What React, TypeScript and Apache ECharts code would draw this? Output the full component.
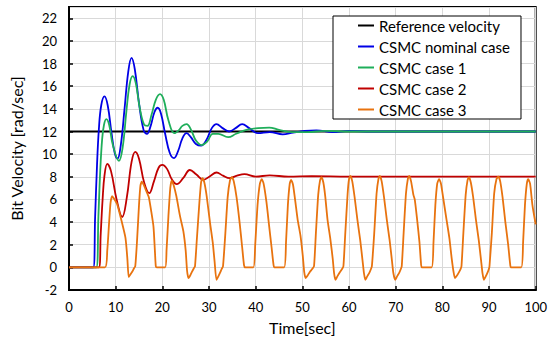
import React, { useEffect, useRef } from "react";
import * as echarts from "echarts";

const seriesNames = ["Reference velocity", "CSMC nominal case", "CSMC case 1", "CSMC case 2", "CSMC case 3"];
const seriesColors = ["#000000", "#0000e6", "#1fae5a", "#c00000", "#e8730f"];
const xTicks = [0, 10, 20, 30, 40, 50, 60, 70, 80, 90, 100];
const yTicks = [-2, 0, 2, 4, 6, 8, 10, 12, 14, 16, 18, 20, 22];

const referenceVelocity: number[][] = [[0, 12], [100, 12]];

const nominalCase: number[][] = [
  [0, 0], [5.2, 0], [5.6, 4.5], [6.0, 9], [6.4, 12.2], [6.9, 14.3], [7.6, 15.1], [8.3, 14.3], [9.1, 11.9],
  [9.8, 10.1], [10.4, 9.6], [11.1, 10.8], [11.9, 14.0], [12.7, 17.3], [13.4, 18.5], [14.1, 17.5], [15.0, 14.5],
  [16.0, 12.1], [16.7, 11.8], [17.5, 12.5], [18.3, 13.7], [19.0, 14.1], [19.7, 13.6], [20.6, 11.8], [21.6, 10.1],
  [22.5, 9.65], [23.4, 10.3], [24.3, 11.4], [25.2, 11.85], [26.1, 11.5], [27.2, 10.9], [28.3, 10.75], [29.5, 11.3],
  [30.6, 12.3], [31.6, 12.65], [32.9, 12.3], [34.3, 12.0], [35.7, 12.3], [37.1, 12.65], [38.6, 12.3], [40.5, 11.85],
  [43.0, 11.95], [45.8, 11.75], [48.0, 11.9], [50.5, 12.05], [53.0, 12.1], [56.5, 11.95], [60.0, 12.05], [65, 12], [100, 12],
];

const case1: number[][] = [
  [0, 0], [5.85, 0], [6.3, 4.5], [6.7, 8.6], [7.1, 11.3], [7.5, 12.6], [8.0, 13.1], [8.6, 12.6], [9.4, 10.8],
  [10.7, 9.4], [11.5, 10.6], [12.3, 13.8], [13.0, 16.2], [13.65, 16.9], [14.3, 16.3], [15.2, 14.0], [16.1, 12.6],
  [16.8, 12.5], [17.7, 13.5], [18.6, 14.8], [19.5, 15.3], [20.3, 14.8], [21.3, 13.0], [22.6, 11.85], [23.5, 12.1],
  [24.3, 12.5], [25.2, 12.65], [26.2, 12.1], [27.2, 11.2], [28.4, 10.8], [29.6, 11.1], [30.8, 11.8], [32.0, 11.8],
  [34.1, 11.5], [35.8, 11.8], [38.0, 12.15], [40.5, 12.3], [42.9, 12.35], [45.0, 12.15], [48.0, 11.95], [51.0, 11.95],
  [55.0, 12.05], [60, 12], [100, 12],
];

const case2: number[][] = [
  [0, 0], [6.4, 0], [6.8, 3], [7.2, 6], [7.6, 8.1], [8.2, 9.15], [9.0, 8.5], [10.2, 6.0], [11.4, 4.45], [12.4, 6.2],
  [13.4, 9.3], [14.2, 10.2], [15.0, 9.6], [16.1, 7.5], [17.2, 6.55], [18.2, 7.6], [19.2, 8.8], [20.0, 9.05],
  [21.0, 8.7], [22.0, 7.8], [23.1, 7.35], [24.5, 7.9], [25.9, 8.6], [27.3, 8.2], [28.8, 7.73], [30.2, 8.05],
  [31.6, 8.38], [33.0, 8.1], [34.4, 7.88], [36.0, 8.1], [37.6, 8.23], [40, 8.02], [43, 8.12], [47, 8.02],
  [52, 8.05], [60, 8.02], [100, 8.02],
];

const case3: number[][] = [
  [0, 0], [7.7, 0], [8.2, 1.5], [8.6, 4], [8.9, 5.7], [9.25, 6.3], [9.6, 6.1], [10.3, 5.6], [11.2, 4.2], [12.1, 2.6],
  [12.5, 0.8], [12.8, -0.86], [13.2, -0.6], [13.6, -0.35], [13.9, -0.1], [14.2, 0.1], [14.6, 2.5], [15.0, 5.5],
  [15.3, 7.2], [15.6, 7.58], [16.0, 7.3], [16.5, 6.8], [17.1, 6.2], [17.6, 5.0], [18.1, 3.6], [18.4, 1.5], [18.6, 0.1],
  [18.8, 0], [20.6, 0], [20.9, 1.5], [21.3, 4.5], [21.7, 7.0], [22.0, 7.67], [22.4, 7.3], [23.0, 6.3], [23.8, 4.5],
  [24.5, 3.2], [25.0, 1.5], [25.3, -0.3], [25.6, -0.95], [26.0, -0.7], [26.4, -0.35], [26.8, -0.05], [27.0, 0.1],
  [27.4, 2.5], [27.9, 5.5], [28.3, 7.5], [28.6, 7.88], [29.0, 7.5], [29.5, 6.3], [30.2, 4.0], [30.8, 2.2], [31.2, 0.5],
  [31.6, -1.1], [32.0, -0.8], [32.4, -0.45], [32.7, -0.15], [33.0, 0.1], [33.5, 3.0], [34.0, 6.2], [34.5, 7.7],
  [34.9, 7.97], [35.3, 7.6], [35.9, 6.2], [36.6, 3.8], [37.1, 1.8], [37.5, 0.2], [37.7, 0], [39.5, 0], [39.9, 2.0],
  [40.4, 5.5], [40.9, 7.4], [41.3, 7.8], [41.7, 7.4], [42.3, 5.8], [42.9, 3.6], [43.4, 1.8], [43.8, 0.3], [44.0, 0],
  [46.1, 0], [46.5, 2.2], [46.9, 5.5], [47.3, 7.4], [47.6, 7.73], [48.0, 7.3], [48.5, 5.8], [49.0, 4.2], [49.6, 2.8],
  [50.1, 1.0], [50.4, -0.4], [50.7, -0.95], [51.1, -0.75], [51.6, -0.4], [52.1, -0.15], [52.5, 0.1], [52.9, 3.0],
  [53.4, 6.4], [53.8, 7.7], [54.1, 7.97], [54.5, 7.5], [54.9, 6.3], [55.4, 4.2], [56.0, 2.5], [56.5, 0.8], [56.8, -0.5],
  [57.1, -1.1], [57.5, -0.8], [58.0, -0.45], [58.5, -0.15], [58.8, 0.1], [59.2, 3.0], [59.7, 6.5], [60.0, 7.8],
  [60.3, 8.08], [60.7, 7.6], [61.2, 6.2], [61.8, 4.2], [62.4, 2.4], [62.9, 0.6], [63.2, -0.5], [63.5, -1.1],
  [63.9, -0.8], [64.4, -0.45], [64.7, -0.15], [64.9, 0.1], [65.4, 3.0], [65.9, 6.5], [66.3, 7.8], [66.6, 8.08],
  [67.0, 7.6], [67.5, 6.2], [68.1, 4.2], [68.7, 2.4], [69.2, 0.6], [69.5, -0.5], [69.9, -1.1], [70.3, -0.8],
  [70.8, -0.45], [71.1, -0.15], [71.3, 0.1], [71.7, 3.0], [72.2, 6.5], [72.6, 7.8], [72.9, 8.08], [73.3, 7.6],
  [73.8, 6.4], [74.1, 5.97], [74.6, 4.2], [75.1, 2.2], [75.4, 0.5], [75.6, 0], [77.7, 0], [78.1, 2.2], [78.5, 5.5],
  [78.9, 7.4], [79.3, 7.8], [79.7, 7.4], [80.3, 5.8], [80.9, 4.2], [81.5, 2.6], [82.0, 0.8], [82.4, -0.4],
  [82.7, -0.95], [83.1, -0.75], [83.6, -0.4], [83.9, -0.15], [84.1, 0.1], [84.5, 3.0], [85.0, 6.4], [85.4, 7.7],
  [85.7, 7.97], [86.1, 7.5], [86.6, 6.2], [87.2, 4.2], [87.8, 2.4], [88.3, 0.6], [88.6, -0.5], [88.9, -1.1],
  [89.3, -0.8], [89.7, -0.45], [90.0, -0.1], [90.1, 0.1], [90.6, 3.0], [91.1, 6.5], [91.6, 7.8], [92.0, 8.02],
  [92.4, 7.6], [92.9, 6.2], [93.5, 4.0], [94.1, 2.0], [94.5, 0.4], [94.7, 0], [96.9, 0], [97.3, 2.2], [97.7, 5.5],
  [98.1, 7.4], [98.4, 7.8], [98.8, 7.4], [99.3, 5.5], [100, 3.8],
];

const seriesData = [referenceVelocity, nominalCase, case1, case2, case3];
const FONT = "Lato, 'Open Sans', sans-serif";

export default function App() {
  const ref = useRef<HTMLDivElement>(null);
  useEffect(() => {
    if (!ref.current) return;
    const chart = echarts.init(ref.current, undefined, { renderer: "svg" });
    chart.setOption({
      animation: false,
      backgroundColor: "#ffffff",
      textStyle: { fontFamily: FONT },
      grid: { left: 66, right: 13, top: 7, bottom: 52, show: true, borderColor: "#000", borderWidth: 2, containLabel: false },
      legend: {
        data: seriesNames.map((n) => ({ name: n, icon: "rect" })),
        orient: "vertical",
        left: 333,
        top: 16,
        padding: [2, 11, 2, 25],
        itemWidth: 16,
        itemHeight: 2,
        itemGap: 6,
        borderColor: "#000",
        borderWidth: 1,
        backgroundColor: "#fff",
        textStyle: { fontFamily: FONT, fontSize: 15, color: "#000", lineHeight: 14 },
      },
      xAxis: {
        type: "value",
        min: xTicks[0],
        max: xTicks[xTicks.length - 1],
        interval: 10,
        name: "Time[sec]",
        nameLocation: "middle",
        nameGap: 29,
        nameTextStyle: { fontFamily: FONT, fontSize: 16, color: "#000" },
        axisLine: { show: true, onZero: false, lineStyle: { color: "#000", width: 2 } },
        axisTick: { show: true, inside: true, length: 4, lineStyle: { color: "#000", width: 1.5 } },
        axisLabel: { fontFamily: FONT, fontSize: 13, color: "#000", margin: 10 },
        splitLine: { show: true, lineStyle: { color: "#d9d9d9", width: 1 } },
      },
      yAxis: {
        type: "value",
        min: yTicks[0],
        max: 23,
        interval: 2,
        name: "Bit Velocity [rad/sec]",
        nameLocation: "middle",
        nameGap: 45,
        nameTextStyle: { fontFamily: FONT, fontSize: 16, color: "#000" },
        axisLine: { show: true, onZero: false, lineStyle: { color: "#000", width: 2 } },
        axisTick: { show: true, inside: true, length: 4, lineStyle: { color: "#000", width: 1.5 } },
        axisLabel: { fontFamily: FONT, fontSize: 13, color: "#000", margin: 12, showMaxLabel: false },
        splitLine: { show: true, lineStyle: { color: "#d9d9d9", width: 1 } },
      },
      series: seriesNames.map((name, i) => ({
        name,
        type: "line",
        data: seriesData[i],
        symbol: "none",
        smooth: i === 4 ? 0.2 : i === 0 ? false : 0.4,
        color: seriesColors[i],
        itemStyle: { color: seriesColors[i] },
        lineStyle: { color: seriesColors[i], width: 1.8 },
        z: 2 + i,
      })),
    });
    return () => chart.dispose();
  }, []);
  return <div ref={ref} style={{ position: "fixed", left: 0, top: 0, width: 550, height: 342 }} />;
}
